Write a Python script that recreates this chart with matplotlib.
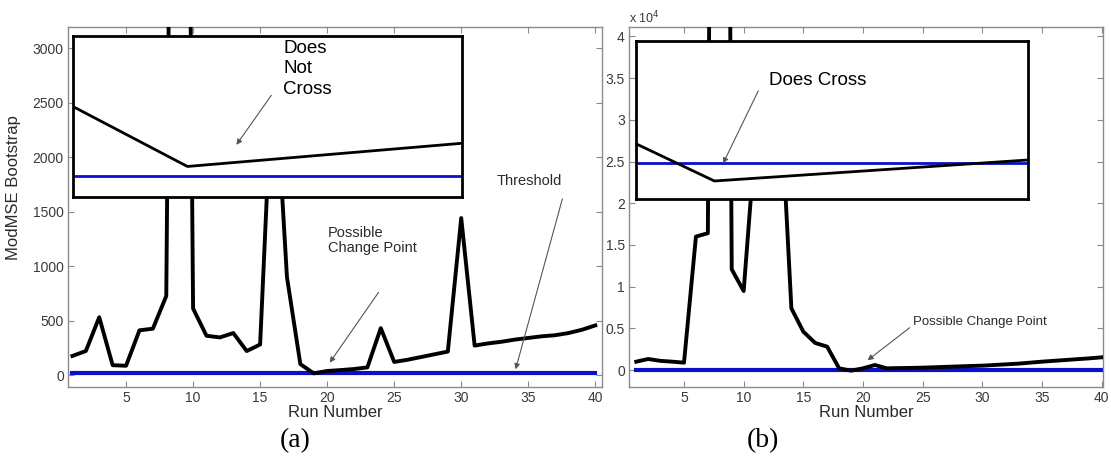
import matplotlib
matplotlib.use("Agg")
import matplotlib.pyplot as plt
import numpy as np

plt.rcParams['font.family'] = ['Liberation Sans', 'DejaVu Sans']

# ---- data ----
runs = list(range(1, 41))

# panel (a): ModMSE bootstrap values
vals_a = [175, 220, 530, 90, 85, 410, 425, 725, 15000, 610,
          360, 345, 385, 220, 280, 3000, 900, 100, 15, 37,
          45, 55, 70, 430, 120, 140, 165, 190, 215, 1440,
          270, 290, 305, 325, 340, 355, 365, 385, 415, 455]
thresh_a = 15

# panel (b): values (x 10^4 axis)
vals_b = [1000, 1320, 1100, 1000, 880, 16000, 16400, 250000, 12070, 9470,
          28000, 33000, 35000, 7400, 4600, 3240, 2800, 200, -80, 200,
          600, 200, 230, 250, 280, 330, 380, 430, 480, 520,
          600, 680, 760, 880, 1000, 1100, 1200, 1300, 1400, 1520]
thresh_b = 50

# zoomed insets around the minimum
inset_a_runs = [18.5, 19, 20.2]
inset_a_vals = [51, 20, 32]
inset_b_runs = [18.6, 19, 20.6]
inset_b_vals = [210, -100, 75]

W, H = 1111, 470
fig = plt.figure(figsize=(W / 100, H / 100), dpi=100)

def box(x0, y0, x1, y1):
    return [x0 / W, 1 - y1 / H, (x1 - x0) / W, (y1 - y0) / H]

spine_c = '#8a8a8a'
tick_c = '#3a3a3a'
label_c = '#2a2a2a'

def style(ax):
    for s in ax.spines.values():
        s.set_color(spine_c)
        s.set_linewidth(1.0)
    ax.tick_params(direction='in', length=4, width=0.8, color=spine_c, pad=3,
                   labelcolor=tick_c, labelsize=10, top=True, right=True)

arrow = dict(arrowstyle='-|>', color='#555555', lw=0.8, mutation_scale=8)

# ---------------- panel (a) ----------------
ax1 = fig.add_axes(box(68, 27, 602, 387))
ax1.plot(runs, [thresh_a] * len(runs), color='#0a10c8', lw=3, zorder=2)
ax1.plot(runs, vals_a, color='black', lw=2.8, zorder=3)
ax1.set_xlim(0.67, 40.5)
ax1.set_ylim(-110, 3193)
ax1.set_xticks([5, 10, 15, 20, 25, 30, 35, 40])
ax1.set_yticks([0, 500, 1000, 1500, 2000, 2500, 3000])
style(ax1)
ax1.set_xlabel('Run Number', fontsize=12, color=label_c, labelpad=0)
ax1.set_ylabel('ModMSE Bootstrap', fontsize=12, color=label_c, labelpad=4)
ax1.yaxis.set_label_coords(-0.088, 0.555)

ax1.text(35.1, 1779, 'Threshold', fontsize=10.5, color=label_c, ha='center', va='center')
ax1.annotate('', xy=(34.0, 28), xytext=(37.6, 1641), arrowprops=arrow)
ax1.text(20.07, 1238, 'Possible\nChange Point', fontsize=10.5, color=label_c,
         ha='left', va='center', linespacing=1.1)
ax1.annotate('', xy=(20.07, 92), xytext=(23.95, 779), arrowprops=arrow)

ins1 = fig.add_axes(box(73, 36, 462, 197))
ins1.plot([inset_a_runs[0], inset_a_runs[-1]], [thresh_a, thresh_a], color='#0a10c8', lw=2)
ins1.plot(inset_a_runs, inset_a_vals, color='black', lw=2)
ins1.set_xlim(inset_a_runs[0], inset_a_runs[-1])
ins1.set_ylim(4.2, 87.5)
ins1.set_xticks([])
ins1.set_yticks([])
for s in ins1.spines.values():
    s.set_linewidth(2)
    s.set_color('black')
ins1.text(0.54, 0.975, 'Does\nNot\nCross', transform=ins1.transAxes, fontsize=13.5,
          ha='left', va='top', linespacing=1.25)
ins1.annotate('', xy=(0.416, 0.31), xytext=(0.514, 0.646), xycoords='axes fraction',
              arrowprops=arrow)

# ---------------- panel (b) ----------------
ax2 = fig.add_axes(box(629, 27, 1103, 387))
ax2.plot(runs, [thresh_b / 1e4] * len(runs), color='#0a10c8', lw=3, zorder=2)
ax2.plot(runs, np.array(vals_b) / 1e4, color='black', lw=2.8, zorder=3)
ax2.set_xlim(0.39, 40.12)
ax2.set_ylim(-0.2038, 4.1127)
ax2.set_xticks([5, 10, 15, 20, 25, 30, 35, 40])
ax2.set_yticks([0, 0.5, 1, 1.5, 2, 2.5, 3, 3.5, 4])
ax2.set_yticklabels(['0', '0.5', '1', '1.5', '2', '2.5', '3', '3.5', '4'])
style(ax2)
ax2.set_xlabel('Run Number', fontsize=12, color=label_c, labelpad=0)
ax2.text(0.0, 1.003, 'x 10$^4$', transform=ax2.transAxes, fontsize=9,
         color=tick_c, ha='left', va='bottom')

ax2.text(24.2, 0.5755, 'Possible Change Point', fontsize=9.5, color=label_c,
         ha='left', va='center')
ax2.annotate('', xy=(20.2, 0.0959), xytext=(24.1, 0.5275), arrowprops=arrow)

ins2 = fig.add_axes(box(636, 41, 1028, 199))
ins2.plot([inset_b_runs[0], inset_b_runs[-1]], [thresh_b, thresh_b], color='#0a10c8', lw=2)
ins2.plot(inset_b_runs, inset_b_vals, color='black', lw=2)
ins2.set_xlim(inset_b_runs[0], inset_b_runs[-1])
ins2.set_ylim(-250, 1066)
ins2.set_xticks([])
ins2.set_yticks([])
for s in ins2.spines.values():
    s.set_linewidth(2)
    s.set_color('black')
ins2.text(0.339, 0.753, 'Does Cross', transform=ins2.transAxes, fontsize=13.5,
          ha='left', va='center')
ins2.annotate('', xy=(0.219, 0.209), xytext=(0.315, 0.70), xycoords='axes fraction',
              arrowprops=arrow)

# panel letters
fig.text(295 / W, 1 - 441 / H, '(a)', fontsize=20, family='Liberation Serif',
         ha='center', va='center')
fig.text(763 / W, 1 - 441 / H, '(b)', fontsize=20, family='Liberation Serif',
         ha='center', va='center')

fig.savefig('out.png', dpi=100)
